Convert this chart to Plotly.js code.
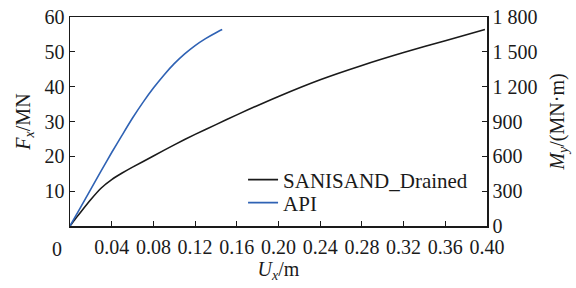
<!DOCTYPE html>
<html>
<head>
<meta charset="utf-8">
<script src="https://cdn.plot.ly/plotly-3.0.1.min.js"></script>
<style>html,body{margin:0;padding:0;background:#fff;}#chart{width:576px;height:288px;}</style>
</head>
<body>
<div id="chart"></div>
<script>
// SANISAND_Drained: lateral displacement (m) vs lateral force (MN)
const sanisandU = [0, 0.005, 0.01, 0.02, 0.03, 0.04, 0.05, 0.06, 0.08, 0.10, 0.12, 0.14, 0.16, 0.20, 0.24, 0.28, 0.32, 0.36, 0.398];
const sanisandF = [0, 2.0, 3.9, 7.6, 10.9, 13.3, 15.2, 16.9, 20.1, 23.3, 26.3, 29.1, 31.9, 37.2, 42.0, 46.1, 49.8, 53.2, 56.4];
// API p-y
const apiU = [0, 0.01, 0.02, 0.03, 0.04, 0.05, 0.06, 0.07, 0.08, 0.09, 0.10, 0.11, 0.12, 0.13, 0.14, 0.146];
const apiF = [0, 5.3, 10.6, 15.9, 21.1, 26.1, 31.0, 35.5, 39.6, 43.3, 46.6, 49.4, 51.8, 53.8, 55.5, 56.4];

const xTickVals = [0.04, 0.08, 0.12, 0.16, 0.20, 0.24, 0.28, 0.32, 0.36, 0.40];
const xTickText = ["0.04","0.08","0.12","0.16","0.20","0.24","0.28","0.32","0.36","0.40"];
const yTickVals = [10, 20, 30, 40, 50, 60];
const y2TickVals = [0, 300, 600, 900, 1200, 1500, 1800];
const y2TickText = ["0","300","600","900","1 200","1 500","1 800"];

const FONT = 'Liberation Serif';

const traces = [
  {x: sanisandU, y: sanisandF, type: 'scatter', mode: 'lines', name: 'SANISAND_Drained',
   line: {color: '#1a1a1a', width: 1.6, shape: 'spline', smoothing: 0.6}, legend: 'legend'},
  {x: apiU, y: apiF, type: 'scatter', mode: 'lines', name: 'API',
   line: {color: '#2f62b4', width: 1.6, shape: 'spline', smoothing: 0.6}, legend: 'legend2'},
  {x: [0.2], y: [0], type: 'scatter', mode: 'none', yaxis: 'y2', showlegend: false, hoverinfo: 'skip'}
];

const axCommon = {
  showline: true, linecolor: '#1a1a1a', linewidth: 1.5,
  ticks: 'inside', ticklen: 5, tickwidth: 1.2, tickcolor: '#1a1a1a',
  showgrid: false, zeroline: false,
  tickfont: {family: FONT, size: 20, color: '#1a1a1a'}
};

const legendCommon = {xanchor: 'left', yanchor: 'middle', bgcolor: 'rgba(0,0,0,0)',
  font: {family: FONT, size: 21, color: '#1a1a1a'}};

const layout = {
  width: 576, height: 288,
  margin: {l: 70, r: 89, t: 17, b: 62},
  paper_bgcolor: '#fff', plot_bgcolor: '#fff',
  font: {family: FONT, size: 20, color: '#1a1a1a'},
  xaxis: Object.assign({}, axCommon, {
    range: [0, 0.40], tickvals: xTickVals, ticktext: xTickText, mirror: true,
    ticklabelstandoff: 2,
    title: {text: '<i>U</i><sub><i>x</i></sub>/m', font: {family: FONT, size: 20}, standoff: 4}
  }),
  yaxis: Object.assign({}, axCommon, {
    range: [0, 60], tickvals: yTickVals,
    title: {text: '<i>F</i><sub><i>x</i></sub>/MN', font: {family: FONT, size: 20}, standoff: 8}
  }),
  yaxis2: Object.assign({}, axCommon, {
    range: [0, 1800], tickvals: y2TickVals, ticktext: y2TickText,
    overlaying: 'y', side: 'right',
    title: {text: '<i>M</i><sub><i>y</i></sub>/(MN·m)', font: {family: FONT, size: 20}, standoff: 13}
  }),
  legend: Object.assign({}, legendCommon, {x: 0.415, y: 0.22}),
  legend2: Object.assign({}, legendCommon, {x: 0.415, y: 0.11}),
  annotations: [
    {text: '0', xref: 'paper', yref: 'paper', x: 0, y: 0, xanchor: 'center', yanchor: 'top',
     xshift: -13, yshift: -10, showarrow: false, font: {family: FONT, size: 20, color: '#1a1a1a'}}
  ]
};

Plotly.newPlot('chart', traces, layout, {staticPlot: true, displayModeBar: false});
</script>
</body>
</html>
